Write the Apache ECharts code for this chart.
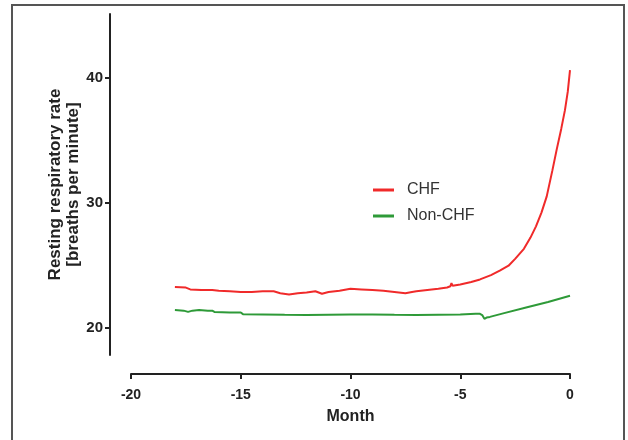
<!DOCTYPE html>
<html>
<head>
<meta charset="utf-8">
<script src="https://cdn.jsdelivr.net/npm/echarts@6/dist/echarts.min.js"></script>
<style>html,body{margin:0;padding:0;background:#fff}</style>
</head>
<body>
<div id="main" style="width:628px;height:440px"></div>
<script type="text/javascript">
    // months before event, resting respiratory rate (breaths/min)
    var chfMonth = [-18, -17.5, -17.3, -16.8, -16.3, -16, -15.5, -15, -14.5, -14, -13.5, -13.2, -12.8, -12.4, -12, -11.6, -11.3, -11, -10.5, -10,
        -9.5, -9, -8.5, -8, -7.5, -7.2, -7, -6.5, -6, -5.6, -5.45, -5.4, -5.35, -5, -4.5, -4.1, -3.6, -3.2, -2.8, -2.5,
        -2.1, -1.8, -1.55, -1.3, -1.06, -0.8, -0.6, -0.4, -0.23, -0.1, 0];
    var chfRate = [23.25, 23.2, 23.05, 23.0, 23.0, 22.95, 22.9, 22.85, 22.85, 22.9, 22.9, 22.75, 22.65, 22.75, 22.8, 22.9, 22.7, 22.85, 22.95, 23.1,
        23.05, 23.0, 22.95, 22.85, 22.75, 22.85, 22.9, 23.0, 23.1, 23.2, 23.3, 23.55, 23.35, 23.45, 23.65, 23.85, 24.2, 24.55, 24.95, 25.5,
        26.3, 27.2, 28.1, 29.2, 30.5, 32.6, 34.3, 35.9, 37.4, 38.9, 40.6];

    var nonMonth = [-18, -17.6, -17.4, -17.2, -16.9, -16.5, -16.3, -16.2, -15.5, -15, -14.9, -14, -13, -12, -11, -10, -9, -8, -7, -6,
        -5, -4.3, -4.1, -4, -3.9, -3.8, -3.65, -3, -2, -1, 0];
    var nonRate = [21.4, 21.35, 21.25, 21.35, 21.4, 21.35, 21.35, 21.25, 21.2, 21.2, 21.07, 21.05, 21.02, 21.0, 21.03, 21.05, 21.05, 21.02, 21.0, 21.03,
        21.05, 21.1, 21.1, 21.0, 20.7, 20.8, 20.85, 21.15, 21.6, 22.05, 22.55];

    var yTicks = [20, 30, 40];

    function pairs(xs, ys) {
        var out = [];
        for (var i = 0; i < xs.length; i++) out.push([xs[i], ys[i]]);
        return out;
    }

    var myChart = echarts.init(document.getElementById('main'));

    var axisFont = {fontFamily: 'Liberation Sans, Arial', fontWeight: 'bold', color: '#222'};

    option = {
        animation: false,
        backgroundColor: '#fff',
        graphic: [{
            type: 'rect',
            shape: {x: 12, y: 5, width: 612, height: 460},
            style: {fill: 'none', stroke: '#555', lineWidth: 2}
        }],
        legend: {
            orient: 'vertical',
            left: 368,
            top: 177,
            itemWidth: 21,
            itemHeight: 3,
            itemGap: 10,
            icon: 'rect',
            textStyle: {fontFamily: 'Liberation Sans, Arial', fontSize: 16, color: '#333', padding: [0, 0, 0, 8]},
            data: ['CHF', 'Non-CHF']
        },
        grid: {left: 131, right: 58, top: 14, bottom: 85},
        xAxis: {
            type: 'value',
            min: -20,
            max: 0,
            interval: 5,
            offset: 19,
            name: 'Month',
            nameLocation: 'middle',
            nameGap: 35,
            nameTextStyle: Object.assign({fontSize: 16}, axisFont),
            axisLine: {onZero: false, lineStyle: {color: '#222', width: 2}},
            axisTick: {length: 5, lineStyle: {color: '#222', width: 2}},
            axisLabel: Object.assign({fontSize: 14, margin: 14}, axisFont),
            splitLine: {show: false}
        },
        yAxis: {
            type: 'value',
            position: 'left',
            min: 17.8,
            max: 45.1,
            offset: 21,
            name: 'Resting respiratory rate\n[breaths per minute]',
            nameLocation: 'middle',
            nameGap: 28,
            nameMoveOverlap: false,
            nameTextStyle: Object.assign({fontSize: 17, lineHeight: 18}, axisFont),
            axisLine: {show: true, onZero: false, lineStyle: {color: '#222', width: 2}},
            axisTick: {show: true, length: 5, customValues: yTicks, lineStyle: {color: '#222', width: 2}},
            axisLabel: Object.assign({fontSize: 15, margin: 7, customValues: yTicks}, axisFont),
            splitLine: {show: false}
        },
        series: [{
            name: 'CHF',
            type: 'line',
            showSymbol: false,
            symbol: 'none',
            color: '#f02a2a',
            lineStyle: {width: 2},
            data: pairs(chfMonth, chfRate)
        }, {
            name: 'Non-CHF',
            type: 'line',
            showSymbol: false,
            symbol: 'none',
            color: '#2e9a38',
            lineStyle: {width: 2},
            data: pairs(nonMonth, nonRate)
        }]
    };

    myChart.setOption(option);
</script>
</body>
</html>
